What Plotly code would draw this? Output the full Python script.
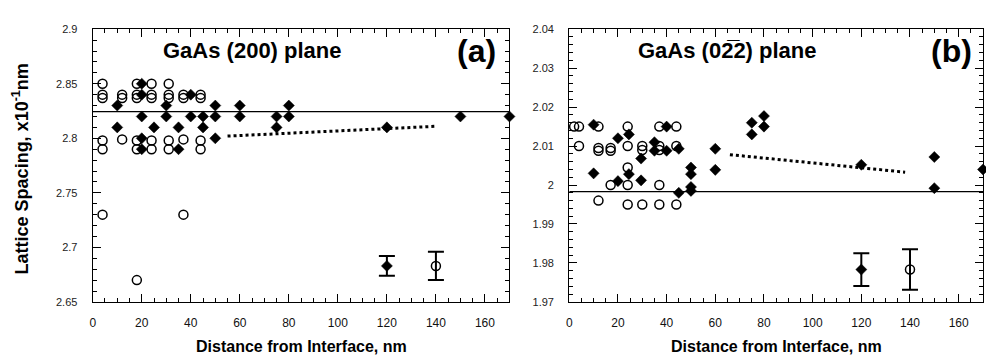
import plotly.graph_objects as go

# ---------------- data: panel (a) GaAs (200) ----------------
a_open_x = [4, 4, 4, 4, 4, 4, 12, 12, 12, 18, 18, 18, 18, 18, 18,
            24, 24, 24, 24, 24, 31, 31, 31, 31, 31, 37, 37, 37, 37, 44, 44, 44, 44]
a_open_y = [2.85, 2.84, 2.837, 2.798, 2.79, 2.73, 2.84, 2.837, 2.799,
            2.85, 2.84, 2.837, 2.798, 2.79, 2.67,
            2.85, 2.84, 2.837, 2.798, 2.79,
            2.85, 2.84, 2.837, 2.798, 2.79,
            2.84, 2.837, 2.799, 2.73,
            2.84, 2.837, 2.798, 2.79]
a_fill_x = [10, 10, 20, 20, 20, 20, 20, 25, 30, 30, 35, 35, 40, 40, 45, 45,
            50, 50, 50, 60, 60, 75, 75, 80, 80, 120, 150, 170]
a_fill_y = [2.83, 2.81, 2.85, 2.84, 2.82, 2.80, 2.79, 2.81, 2.83, 2.82, 2.81, 2.79,
            2.84, 2.82, 2.82, 2.81, 2.83, 2.82, 2.80, 2.83, 2.82, 2.82, 2.81,
            2.83, 2.82, 2.81, 2.82, 2.82]
a_ref_level = 2.8245
a_trend_x = [55, 140]
a_trend_y = [2.802, 2.811]
a_err_fill = dict(x=120, y=2.683, e=0.009)
a_err_open = dict(x=140, y=2.683, e=0.013)
a_yticks = [2.65, 2.7, 2.75, 2.8, 2.85, 2.9]
a_yticktext = ["2.65", "2.7", "2.75", "2.8", "2.85", "2.9"]

# ---------------- data: panel (b) GaAs (0-22) ----------------
b_open_x = [2, 4, 4, 12, 12, 12, 12, 17, 17, 17, 24, 24, 24, 24, 24,
            30, 30, 30, 37, 37, 37, 37, 37, 44, 44, 44]
b_open_y = [2.015, 2.015, 2.01, 2.015, 2.0095, 2.0088, 1.996, 2.0095, 2.0088, 2.0,
            2.015, 2.01, 2.0045, 2.0, 1.995,
            2.01, 2.009, 1.995,
            2.015, 2.01, 2.009, 2.0, 1.995,
            2.015, 2.01, 1.995]
b_fill_x = [10, 10, 20, 20, 24.5, 24.5, 29.5, 29.5, 35, 35, 40, 40, 45, 45,
            50, 50, 50, 50, 60, 60, 75, 75, 80, 80, 120, 150, 150, 170]
b_fill_y = [2.0155, 2.003, 2.012, 2.001, 2.013, 2.0028, 2.0068, 2.0012, 2.011, 2.0088,
            2.015, 2.0088, 2.0093, 1.998, 2.0045, 2.0028, 1.9995, 1.9985,
            2.0093, 2.0039, 2.016, 2.013, 2.0177, 2.015, 2.0052, 2.0072, 1.9992, 2.004]
b_ref_level = 1.9983
b_trend_x = [66, 138]
b_trend_y = [2.0078, 2.0033]
b_err_fill = dict(x=120, y=1.9783, e=0.0042)
b_err_open = dict(x=140, y=1.9783, e=0.0052)
b_yticks = [1.97, 1.98, 1.99, 2.0, 2.01, 2.02, 2.03, 2.04]
b_yticktext = ["1.97", "1.98", "1.99", "2", "2.01", "2.02", "2.03", "2.04"]

x_range = [0, 170]
x_ticks = [0, 20, 40, 60, 80, 100, 120, 140, 160]

W, H = 986, 364
def px(x): return x / W
def py(y): return 1 - y / H

fig = go.Figure()

open_marker = dict(symbol="circle-open", size=9, color="black", line=dict(width=1.5, color="black"))
fill_marker = dict(symbol="diamond", size=8.5, color="black", line=dict(width=0.5, color="black"))

def add_panel(xa, ya, ox, oy, fx, fy, lvl, tx, ty, ef, eo):
    fig.add_trace(go.Scatter(x=x_range, y=[lvl, lvl], mode="lines",
                             line=dict(color="black", width=1.3), xaxis=xa, yaxis=ya,
                             showlegend=False, hoverinfo="skip"))
    fig.add_trace(go.Scatter(x=tx, y=ty, mode="lines",
                             line=dict(color="black", width=3, dash="dot"), xaxis=xa, yaxis=ya,
                             showlegend=False))
    fig.add_trace(go.Scatter(x=ox, y=oy, mode="markers", marker=open_marker,
                             xaxis=xa, yaxis=ya, showlegend=False, cliponaxis=False))
    fig.add_trace(go.Scatter(x=fx, y=fy, mode="markers", marker=fill_marker,
                             xaxis=xa, yaxis=ya, showlegend=False, cliponaxis=False))
    fig.add_trace(go.Scatter(x=[ef["x"]], y=[ef["y"]], mode="markers", marker=fill_marker,
                             error_y=dict(type="data", array=[ef["e"]], color="black",
                                          thickness=2, width=8),
                             xaxis=xa, yaxis=ya, showlegend=False))
    fig.add_trace(go.Scatter(x=[eo["x"]], y=[eo["y"]], mode="markers", marker=open_marker,
                             error_y=dict(type="data", array=[eo["e"]], color="black",
                                          thickness=2, width=8),
                             xaxis=xa, yaxis=ya, showlegend=False))

add_panel("x", "y", a_open_x, a_open_y, a_fill_x, a_fill_y, a_ref_level,
          a_trend_x, a_trend_y, a_err_fill, a_err_open)
add_panel("x2", "y2", b_open_x, b_open_y, b_fill_x, b_fill_y, b_ref_level,
          b_trend_x, b_trend_y, b_err_fill, b_err_open)

ydom = [py(306), py(24)]
xfont = dict(family="Liberation Sans", size=12, color="#111")
yfont = dict(family="Liberation Sans", size=11, color="#222")

def xaxis(dom):
    return dict(domain=dom, range=x_range, tickvals=x_ticks, ticks="inside", ticklen=8,
                tickwidth=1, tickcolor="black", mirror="ticks", showline=True,
                linecolor="black", linewidth=1.2, showgrid=False, zeroline=False,
                minor=dict(ticks="inside", dtick=5, ticklen=4, tickcolor="black"),
                tickfont=xfont, ticklabelstandoff=10)

def yaxis(rng, vals, text, mdt):
    return dict(domain=ydom, range=rng, tickvals=vals, ticktext=text, ticks="inside",
                ticklen=8, tickwidth=1, tickcolor="black", mirror="ticks", showline=True,
                linecolor="black", linewidth=1.2, showgrid=False, zeroline=False,
                minor=dict(ticks="inside", dtick=mdt, ticklen=4, tickcolor="black"),
                tickfont=yfont, ticklabelstandoff=12)

fig.update_layout(
    width=W, height=H, margin=dict(l=0, r=0, t=0, b=0),
    paper_bgcolor="white", plot_bgcolor="white",
    xaxis=xaxis([px(90), px(508)]),
    xaxis2=xaxis([px(568), px(983)]),
    yaxis=yaxis([2.65, 2.9], a_yticks, a_yticktext, 0.01),
    yaxis2=yaxis([1.97, 2.04], b_yticks, b_yticktext, 0.002),
)
fig.update_layout(yaxis2=dict(anchor="x2"), xaxis2=dict(anchor="y2"))

tfont = dict(family="Liberation Sans", size=22, color="black")
lfont = dict(family="Liberation Sans", size=32, color="black")
xtfont = dict(family="Liberation Sans", size=16, color="black")
ann = [
    dict(text="<b>GaAs (200) plane</b>", x=px(250), y=py(46), font=tfont),
    dict(text="<b>(a)</b>", x=px(475), y=py(47), font=lfont),
    dict(text="<b>GaAs (02\u03052) plane</b>", x=px(727), y=py(46), font=tfont),
    dict(text="<b>(b)</b>", x=px(951), y=py(47), font=lfont),
    dict(text="<b>Distance from Interface, nm</b>", x=px(299), y=py(352), font=xtfont),
    dict(text="<b>Distance from Interface, nm</b>", x=px(776), y=py(352), font=xtfont),
    dict(text="<b>Lattice Spacing, x10<sup>-1</sup>nm</b>", x=px(18), y=py(168),
         textangle=-90, font=dict(family="Liberation Sans", size=18, color="black")),
]
for a in ann:
    a.update(xref="paper", yref="paper", showarrow=False, xanchor="center", yanchor="middle")
fig.update_layout(annotations=ann)

# remove the default page margin so the 986x364 figure fills the window exactly
fig.write_html("out.html",
               config={"displayModeBar": False},
               post_script="document.body.style.margin='0';"
                           "document.body.style.overflow='hidden';")
